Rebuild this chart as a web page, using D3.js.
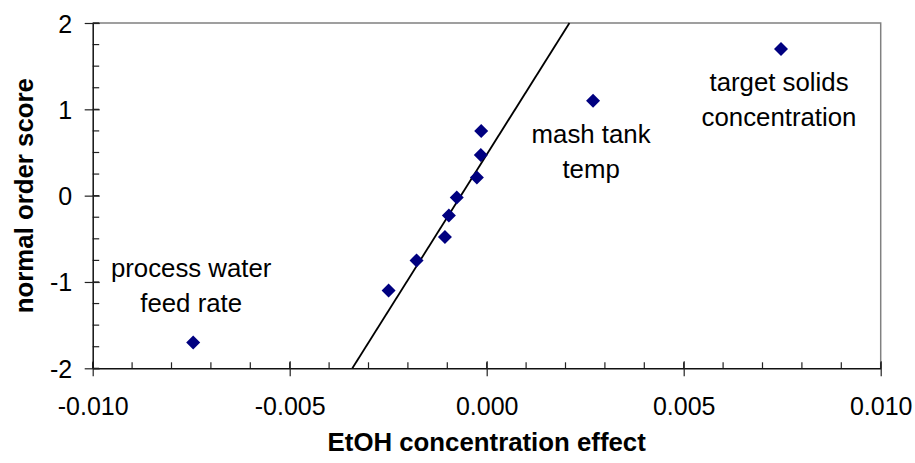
<!DOCTYPE html>
<html>
<head>
<meta charset="utf-8">
<script src="https://cdn.jsdelivr.net/npm/d3@7"></script>
<style>
  html, body { margin: 0; padding: 0; background: #fff; }
  svg { display: block; font-family: "Liberation Sans", Arial, sans-serif; }
</style>
</head>
<body>
<svg id="chart" width="915" height="463"></svg>
<script>
// ---- data ----
const effects = [-0.00745, -0.00249, -0.00178, -0.00106, -0.00096, -0.00076, -0.00025, -0.00015, -0.00014, 0.0027, 0.00747];
const scores  = [-1.70, -1.10, -0.75, -0.48, -0.23, -0.02, 0.21, 0.47, 0.75, 1.10, 1.70];
const fitLineX = [-0.00341, 0.00210];
const fitLineY = [-2, 2];
const xTicks = [-0.010, -0.005, 0.000, 0.005, 0.010];
const yTicks = [-2, -1, 0, 1, 2];
const labelText  = [["process water", "feed rate"], ["mash tank", "temp"], ["target solids", "concentration"]];
const labelPoint = [0, 9, 10];
const labelSide  = ["above", "below", "below"];
const xTitle = "EtOH concentration effect";
const yTitle = "normal order score";

// ---- layout ----
const pLeft = 92.7, pRight = 880.7, pTop = 23, pBottom = 368.3;
const svg = d3.select("#chart");
const x = d3.scaleLinear().domain([-0.010, 0.010]).range([pLeft, pRight]);
const y = d3.scaleLinear().domain([-2, 2]).range([pBottom, pTop]);
const hy = f => d => f(d).replace("\u2212", "-");

// plot border (top & right, gray)
svg.append("path")
  .attr("d", `M${pLeft},${pTop}H${pRight}V${pBottom}`)
  .attr("fill", "none").attr("stroke", "#808080").attr("stroke-width", 1.5);

// minor ticks (inside)
const xMinor = d3.range(-10, 11).map(d => d / 1000);
svg.append("g").selectAll("line").data(xMinor).join("line")
  .attr("x1", d => x(d)).attr("x2", d => x(d))
  .attr("y1", pBottom).attr("y2", pBottom - 6)
  .attr("stroke", "#222").attr("stroke-width", 1.2);
const yMinor = d3.range(-8, 9).map(d => d / 4);
svg.append("g").selectAll("line").data(yMinor).join("line")
  .attr("y1", d => y(d)).attr("y2", d => y(d))
  .attr("x1", pLeft).attr("x2", pLeft + 6.5)
  .attr("stroke", "#222").attr("stroke-width", 1.2);

// major axes via d3 axis
const xAxis = svg.append("g").attr("transform", `translate(0,${pBottom})`)
  .call(d3.axisBottom(x).tickValues(xTicks).tickFormat(hy(d3.format(".3f"))).tickSize(8).tickPadding(22).tickSizeOuter(0));
xAxis.select(".domain").attr("stroke", "#111").attr("stroke-width", 1.5);
xAxis.selectAll(".tick line").attr("y1", -7).attr("stroke", "#222").attr("stroke-width", 1.2);
xAxis.selectAll(".tick text").attr("font-size", 25).attr("fill", "#000")
  .attr("font-family", "Liberation Sans, Arial, sans-serif")
  .attr("dy", 0).attr("y", 415 - pBottom);

const yAxis = svg.append("g").attr("transform", `translate(${pLeft},0)`)
  .call(d3.axisLeft(y).tickValues(yTicks).tickFormat(hy(d3.format("d"))).tickSize(8).tickPadding(13).tickSizeOuter(0));
yAxis.select(".domain").attr("stroke", "#111").attr("stroke-width", 1.5);
yAxis.selectAll(".tick line").attr("x1", 7).attr("stroke", "#222").attr("stroke-width", 1.2);
yAxis.selectAll(".tick text").attr("font-size", 25).attr("fill", "#000")
  .attr("font-family", "Liberation Sans, Arial, sans-serif")
  .attr("x", -20.5).attr("dy", "0.36em");

// fitted line
svg.append("line")
  .attr("x1", x(fitLineX[0])).attr("y1", y(fitLineY[0]))
  .attr("x2", x(fitLineX[1])).attr("y2", y(fitLineY[1]))
  .attr("stroke", "#000").attr("stroke-width", 1.8);

// points (navy diamonds)
const pts = effects.map((e, i) => ({ e, s: scores[i] }));
svg.append("g").selectAll("path").data(pts).join("path")
  .attr("transform", d => `translate(${x(d.e)},${y(d.s)})`)
  .attr("d", "M0,-7L7,0L0,7L-7,0Z")
  .attr("fill", "#000080");

// point labels
labelText.forEach((lines, k) => {
  const p = pts[labelPoint[k]];
  const px = x(p.e) - 2, py = y(p.s);
  const offs = labelSide[k] === "above" ? [-65, -30] : [42, 77];
  lines.forEach((t, j) => {
    svg.append("text")
      .attr("x", px).attr("y", py + offs[j])
      .attr("text-anchor", "middle")
      .attr("font-size", 25.8).attr("fill", "#000")
      .text(t);
  });
});

// axis titles
svg.append("text")
  .attr("x", (pLeft + pRight) / 2).attr("y", 451)
  .attr("text-anchor", "middle").attr("font-size", 25.8).attr("font-weight", "bold")
  .text(xTitle);
svg.append("text")
  .attr("transform", `translate(33,${(pTop + pBottom) / 2}) rotate(-90)`)
  .attr("text-anchor", "middle").attr("font-size", 25.8).attr("font-weight", "bold")
  .text(yTitle);
</script>
</body>
</html>
